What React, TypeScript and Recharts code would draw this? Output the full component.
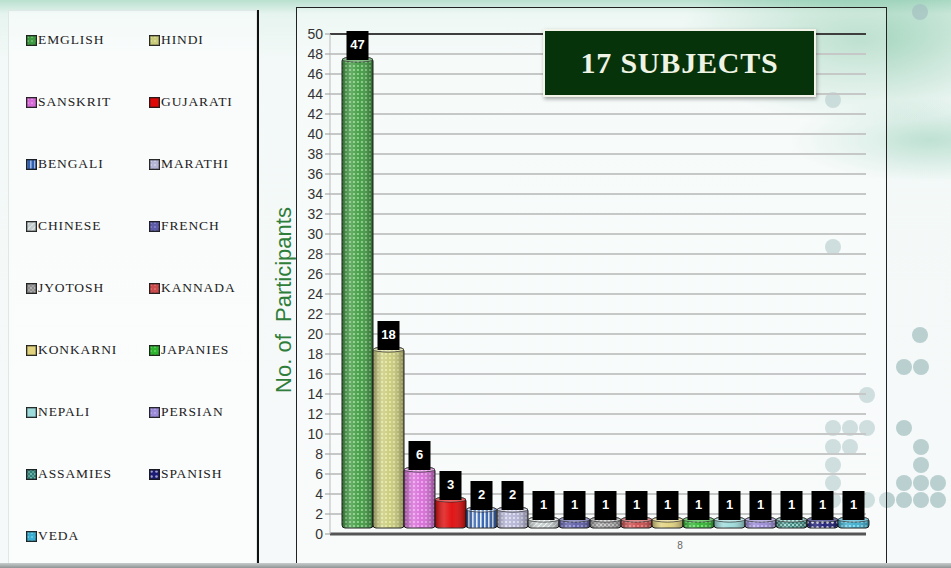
import React from 'react';
import { BarChart, Bar, XAxis, YAxis, CartesianGrid, Legend, LabelList, ReferenceLine } from 'recharts';

const subjects = ['EMGLISH', 'HINDI', 'SANSKRIT', 'GUJARATI', 'BENGALI', 'MARATHI', 'CHINESE', 'FRENCH', 'JYOTOSH', 'KANNADA', 'KONKARNI', 'JAPANIES', 'NEPALI', 'PERSIAN', 'ASSAMIES', 'SPANISH', 'VEDA'];
const participants = [47, 18, 6, 3, 2, 2, 1, 1, 1, 1, 1, 1, 1, 1, 1, 1, 1];
const categories = ['8'];
const yTicks = [0, 2, 4, 6, 8, 10, 12, 14, 16, 18, 20, 22, 24, 26, 28, 30, 32, 34, 36, 38, 40, 42, 44, 46, 48, 50];
const titleText = '17 SUBJECTS';
const yLabel = 'No. of  Participants';

const baseColors = ['#3f9a40', '#c9cb7a', '#d86cd8', '#e00808', '#2f5fae', '#b4b4d6', '#c4cccc', '#5d5da8', '#8e8e8e', '#cc4b4b', '#e2d27e', '#2fb52f', '#9edcdc', '#9a8ad8', '#357f76', '#1c1c78', '#3aaed0'];
const dotColors = ['#9fe09f', '#eef0b0', '#f6b8f6', '#ff3030', '#e6f0ff', '#eeeefa', '#f4f8f8', '#a8a8e8', '#c8c8c8', '#f09090', '#f8f0c0', '#8ef08e', '#e0fafa', '#d0c8f8', '#9ad8d0', '#ffffff', '#a8e8f8'];
const patternKinds = ['dots', 'dots', 'dots', 'solid', 'stripes', 'dots', 'diag', 'dots', 'grid', 'dots', 'solid', 'dots', 'solid', 'dots', 'check', 'bigdots', 'dots'];

const data = categories.map((c) => {
  const row: Record<string, any> = { category: c };
  subjects.forEach((s, i) => {
    row[s] = participants[i];
  });
  return row;
});

const DEPTH = 6;

const PatternDef = ({ i }: { i: number }) => {
  const kind = patternKinds[i];
  const base = baseColors[i];
  const dot = dotColors[i];
  if (kind === 'stripes') {
    return (
      <pattern id={`pat-${i}`} width={4} height={4} patternUnits="userSpaceOnUse">
        <rect width={4} height={4} fill={base} />
        <rect x={0} width={1.6} height={4} fill={dot} />
      </pattern>
    );
  }
  if (kind === 'diag') {
    return (
      <pattern id={`pat-${i}`} width={5} height={5} patternUnits="userSpaceOnUse">
        <rect width={5} height={5} fill={base} />
        <path d="M0 5 L5 0" stroke={dot} strokeWidth={1.2} />
      </pattern>
    );
  }
  if (kind === 'grid' || kind === 'check') {
    return (
      <pattern id={`pat-${i}`} width={4} height={4} patternUnits="userSpaceOnUse">
        <rect width={4} height={4} fill={base} />
        <rect width={2} height={2} fill={dot} />
        <rect x={2} y={2} width={2} height={2} fill={dot} opacity={0.6} />
      </pattern>
    );
  }
  if (kind === 'bigdots') {
    return (
      <pattern id={`pat-${i}`} width={5} height={5} patternUnits="userSpaceOnUse">
        <rect width={5} height={5} fill={base} />
        <circle cx={2.5} cy={2.5} r={1.3} fill={dot} />
      </pattern>
    );
  }
  if (kind === 'solid') {
    return (
      <pattern id={`pat-${i}`} width={4} height={4} patternUnits="userSpaceOnUse">
        <rect width={4} height={4} fill={base} />
      </pattern>
    );
  }
  return (
    <pattern id={`pat-${i}`} width={4} height={4} patternUnits="userSpaceOnUse">
      <rect width={4} height={4} fill={base} />
      <circle cx={2} cy={2} r={0.95} fill={dot} />
    </pattern>
  );
};

const makeShape = (i: number) => (props: any) => {
  const { x, y, width, height } = props;
  if (width == null || height == null) return null;
  const top = y - DEPTH;
  return (
    <g>
      <rect x={x} y={top} width={width} height={height} rx={3} fill={`url(#pat-${i})`} stroke="#1e1e1e" strokeWidth={1} />
      <rect x={x} y={top} width={width} height={height} rx={3} fill="url(#cyl)" />
      <ellipse cx={x + width / 2} cy={top + 1.5} rx={width / 2 - 0.5} ry={2.5} fill={`url(#pat-${i})`} stroke="#1e1e1e" strokeWidth={0.8} />
      <ellipse cx={x + width / 2} cy={top + 1.5} rx={width / 2 - 0.5} ry={2.5} fill="rgba(255,255,255,0.35)" />
    </g>
  );
};

const ValueTag = (props: any) => {
  const { x, y, width, value } = props;
  if (x == null || y == null) return null;
  const cx = x + width / 2;
  const top = y - DEPTH;
  return (
    <g>
      <rect x={cx - 11} y={top - 27} width={22} height={29} fill="#000" />
      <text x={cx} y={top - 14} fill="#fff" fontSize={13} fontWeight="bold" textAnchor="middle" dominantBaseline="central" fontFamily="'Liberation Sans', Arial, sans-serif">
        {value}
      </text>
    </g>
  );
};

const renderLegend = (props: any) => {
  const payload: any[] = props.payload || [];
  const ordered = subjects
    .map((s) => payload.find((p) => p.value === s || p.dataKey === s))
    .filter(Boolean);
  return (
    <div
      style={{
        display: 'grid',
        gridTemplateColumns: '123px 109px',
        gridAutoRows: '62px',
        paddingLeft: 26,
        paddingTop: 9,
        alignItems: 'center',
        fontFamily: "'Liberation Serif', 'DejaVu Serif', serif",
        fontSize: 13.5,
        letterSpacing: 0.9,
        color: '#222',
        textAlign: 'left',
      }}
    >
      {ordered.map((p: any) => {
        const idx = subjects.indexOf(p.value ?? p.dataKey);
        return (
          <div key={p.value} style={{ display: 'flex', alignItems: 'center', whiteSpace: 'nowrap' }}>
            <svg width={11} height={11} style={{ marginRight: 1 }}>
              <rect x={0.75} y={0.75} width={9.5} height={9.5} fill={`url(#pat-${idx})`} stroke="#1a1a1a" strokeWidth={1.5} />
              <rect x={0.75} y={0.75} width={9.5} height={9.5} fill={baseColors[idx]} opacity={0.4} />
            </svg>
            <span>{p.value}</span>
          </div>
        );
      })}
    </div>
  );
};

const dots: [number, number][] = [
  [920, 12], [833, 100], [833, 247], [920, 335], [904, 367], [921, 367], [867, 395],
  [833, 428], [850, 428], [867, 428], [904, 428], [833, 447], [850, 447], [921, 447],
  [833, 465], [921, 465], [833, 483], [904, 483], [921, 483], [938, 483],
  [833, 500], [850, 500], [867, 500], [887, 500], [904, 500], [921, 500], [938, 500],
];

const YLabel = (props: any) => {
  const vb = props.viewBox || {};
  const cx = vb.x + 13;
  const cy = vb.y + vb.height / 2 + 16;
  return (
    <text
      x={cx}
      y={cy}
      transform={`rotate(-90 ${cx} ${cy})`}
      textAnchor="middle"
      dominantBaseline="central"
      fill="#2f7d3a"
      fontSize={22}
      fontFamily="'Liberation Sans', Arial, sans-serif"
      style={{ whiteSpace: 'pre' }}
    >
      {yLabel}
    </text>
  );
};

export default function App() {
  return (
    <div
      style={{
        position: 'absolute',
        left: 0,
        top: 0,
        width: 951,
        height: 568,
        overflow: 'hidden',
        background:
          'radial-gradient(ellipse 260px 120px at 860px 40px, rgba(70,170,120,0.45), rgba(70,170,120,0) 70%), radial-gradient(ellipse 200px 60px at 930px 140px, rgba(90,180,140,0.35), rgba(90,180,140,0) 70%), linear-gradient(180deg, #b9e0cf 0px, #e6f4ef 14px, #f3f9f8 60px, #f6f9f9 100%)',
      }}
    >
      <svg width={951} height={568} style={{ position: 'absolute', left: 0, top: 0 }}>
        {dots.map(([x, y], k) => (
          <circle key={k} cx={x} cy={y} r={8} fill="#a6c2c2" opacity={0.75} />
        ))}
      </svg>
      <div style={{ position: 'absolute', left: 8, top: 10, width: 247, height: 553, background: 'rgba(255,255,255,0.55)', border: '1px solid #dfe8e6' }} />
      <div style={{ position: 'absolute', left: 257, top: 10, width: 2, height: 558, background: '#111' }} />
      <div style={{ position: 'absolute', left: 296, top: 7, width: 589, height: 555, border: '1px solid #222', background: 'rgba(255,255,255,0.3)' }} />
      <div style={{ position: 'absolute', left: 0, top: 563, width: 951, height: 5, background: 'linear-gradient(180deg, #c8cccc, #8e9494)' }} />
      <div style={{ position: 'absolute', left: 0, top: 0 }}>
        <BarChart
          width={951}
          height={568}
          data={data}
          margin={{ top: 34, right: 85, bottom: 4, left: 270 }}
          barCategoryGap={0}
          barGap={0}
        >
          <defs>
            {subjects.map((s, i) => (
              <PatternDef key={s} i={i} />
            ))}
            <linearGradient id="cyl" x1="0" y1="0" x2="1" y2="0">
              <stop offset="0%" stopColor="#000" stopOpacity={0.35} />
              <stop offset="30%" stopColor="#fff" stopOpacity={0.2} />
              <stop offset="55%" stopColor="#fff" stopOpacity={0.05} />
              <stop offset="100%" stopColor="#000" stopOpacity={0.35} />
            </linearGradient>
          </defs>
          <CartesianGrid vertical={false} stroke="#c6c8c8" strokeWidth={2} />
          <XAxis
            dataKey="category"
            padding={{ left: 12, right: 0 }}
            height={30}
            tickLine={false}
            axisLine={{ stroke: '#555', strokeWidth: 3 }}
            tick={{ fontSize: 10, fill: '#666', fontFamily: "'Liberation Sans', Arial, sans-serif", dx: 76 }}
          />
          <YAxis
            domain={[0, 50]}
            ticks={yTicks}
            interval={0}
            width={60}
            tickSize={5}
            tickLine={{ stroke: '#999' }}
            axisLine={{ stroke: '#bbb' }}
            tick={{ fontSize: 14, fill: '#333', fontFamily: "'Liberation Sans', Arial, sans-serif" }}
            label={<YLabel />}
          />
          <YAxis yAxisId="right" orientation="right" domain={[0, 50]} width={0} tick={false} tickLine={false} axisLine={{ stroke: '#222', strokeWidth: 1.5 }} />
          <ReferenceLine y={50} stroke="#111" strokeWidth={1.5} />
          <Legend
            layout="horizontal"
            verticalAlign="middle"
            align="center"
            wrapperStyle={{ left: 0, top: 0, width: 258, height: 568 }}
            content={renderLegend}
          />
          {subjects.map((s, i) => (
            <Bar key={s} dataKey={s} name={s} fill={baseColors[i]} isAnimationActive={false} shape={makeShape(i)}>
              <LabelList dataKey={s} content={<ValueTag />} />
            </Bar>
          ))}
        </BarChart>
      </div>
      <div
        style={{
          position: 'absolute',
          left: 543,
          top: 29,
          width: 269,
          height: 64,
          background: '#07330a',
          border: '2px solid #f2f4ea',
          boxShadow: '1px 2px 4px rgba(0,0,0,0.35)',
          display: 'flex',
          alignItems: 'center',
          justifyContent: 'center',
          color: '#eef3e4',
          fontFamily: "'Liberation Serif', 'DejaVu Serif', serif",
          fontWeight: 'bold',
          fontSize: 30,
          letterSpacing: 0.8,
        }}
      >
        {titleText}
      </div>
    </div>
  );
}
